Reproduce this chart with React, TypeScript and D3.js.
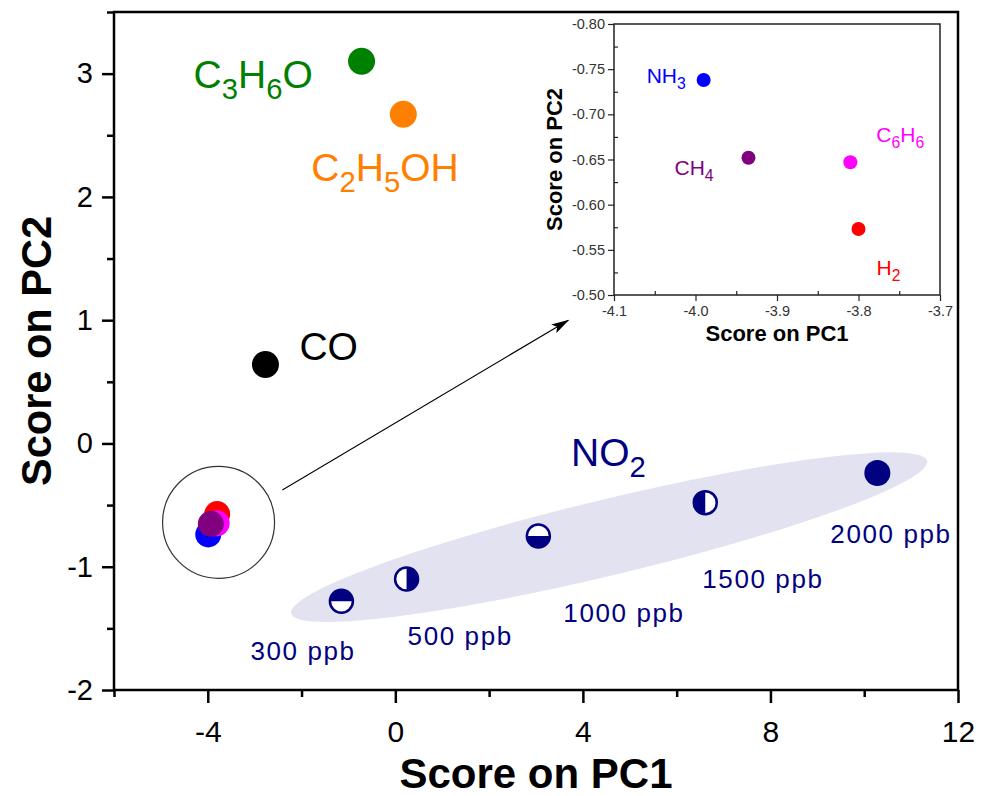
import React, { useRef, useEffect } from "react";
import * as d3 from "d3";

const W = 987;
const H = 796;

// main gases
const gasNames = ["C3H6O", "C2H5OH", "CO"];
const gasPC1 = [-0.72, 0.17, -2.77];
const gasPC2 = [3.1, 2.67, 0.64];
const gasColors = ["#008000", "#ff8000", "#000000"];

// cluster in the circle (also the inset)
const traceNames = ["H2", "NH3", "C6H6", "CH4"];
const tracePC1 = [-3.8, -3.99, -3.81, -3.935];
const tracePC2 = [-0.573, -0.738, -0.647, -0.652];
const traceColors = ["#ff0000", "#0000ff", "#ff00ff", "#800080"];

// NO2 concentrations
const no2Labels = ["300 ppb", "500 ppb", "1000 ppb", "1500 ppb", "2000 ppb"];
const no2PC1 = [-1.15, 0.24, 3.05, 6.61, 10.28];
const no2PC2 = [-1.28, -1.1, -0.75, -0.48, -0.24];
const no2Fill = ["top", "right", "bottom", "left", "full"];

const xTicks = [-4, 0, 4, 8, 12];
const xMinor = [-6, -2, 2, 6, 10];
const yTicks = [-2, -1, 0, 1, 2, 3];
const yMinor = [-1.5, -0.5, 0.5, 1.5, 2.5, 3.5];
const insetXTicks = [-4.1, -4.0, -3.9, -3.8, -3.7];
const insetXMinor = [-4.05, -3.95, -3.85, -3.75];
const insetYTicks = [-0.8, -0.75, -0.7, -0.65, -0.6, -0.55, -0.5];
const insetYMinor = [-0.775, -0.725, -0.675, -0.625, -0.575, -0.525];

// label offsets (px) from their markers
const gasLabelOff = [[-168, 27], [-92, 67], [34, -5]];
const no2LabelOff = [[-91, 59], [1, 66], [25, 86], [-3, 85], [-47, 70]];
const traceLabelOff = [[18, 46], [-57, 3], [26, -20], [-74, 17]];

const FONT = "'Liberation Sans', Arial, Helvetica, sans-serif";

// text with digit runs as subscripts
function formula(g: any, txt: string, size: number) {
  const parts = txt.match(/[A-Za-z]+|\d+/g) || [];
  const shift = size * 0.28;
  let down = false;
  parts.forEach((p) => {
    const isNum = /\d/.test(p);
    const t = g.append("tspan").text(p);
    if (isNum) {
      t.attr("font-size", size * 0.75);
      if (!down) t.attr("dy", shift);
      down = true;
    } else {
      t.attr("font-size", size);
      if (down) t.attr("dy", -shift);
      down = false;
    }
  });
}

export default function App() {
  const ref = useRef<SVGSVGElement>(null);

  useEffect(() => {
    if (!ref.current) return;
    const svg = d3.select(ref.current);
    svg.selectAll("*").remove();
    svg.attr("font-family", FONT);

    const x = d3.scaleLinear().domain([-6, 12]).range([114, 958]);
    const y = d3.scaleLinear().domain([-2, 3.5]).range([690, 12]);

    const defs = svg.append("defs");
    defs.append("marker")
      .attr("id", "arrowhead")
      .attr("markerUnits", "userSpaceOnUse")
      .attr("markerWidth", 18)
      .attr("markerHeight", 10)
      .attr("refX", 17)
      .attr("refY", 5)
      .attr("orient", "auto")
      .append("path")
      .attr("d", "M0,0 L18,5 L0,10 L4,5 z")
      .attr("fill", "#000");

    // NO2 ellipse
    const ex = x(4.56), ey = y(-0.76);
    svg.append("ellipse")
      .attr("cx", ex).attr("cy", ey)
      .attr("rx", 327).attr("ry", 38)
      .attr("transform", `rotate(-13.5,${ex},${ey})`)
      .attr("fill", "#e2e2f1");

    // main axes
    const gx = svg.append("g").attr("transform", `translate(0,${y(-2)})`);
    gx.call(d3.axisBottom(x).tickValues(xTicks).tickSize(13).tickSizeOuter(0).tickPadding(18).tickFormat((d: any) => String(d)));
    const gx2 = svg.append("g").attr("transform", `translate(0,${y(-2)})`);
    gx2.call(d3.axisBottom(x).tickValues(xMinor).tickSize(7).tickSizeOuter(0).tickFormat(() => ""));
    const gy = svg.append("g").attr("transform", `translate(${x(-6)},0)`);
    gy.call(d3.axisLeft(y).tickValues(yTicks).tickSize(12).tickSizeOuter(0).tickPadding(9).tickFormat((d: any) => String(d)));
    const gy2 = svg.append("g").attr("transform", `translate(${x(-6)},0)`);
    gy2.call(d3.axisLeft(y).tickValues(yMinor).tickSize(7).tickSizeOuter(0).tickFormat(() => ""));
    [gx, gx2, gy, gy2].forEach((g) => {
      g.select(".domain").remove();
      g.selectAll("line").attr("stroke", "#000").attr("stroke-width", 2.5);
      g.selectAll("text").attr("fill", "#000").attr("font-family", FONT);
    });
    gx.selectAll("text").attr("font-size", 30);
    gy.selectAll("text").attr("font-size", 29);

    svg.append("rect")
      .attr("x", x(-6)).attr("y", y(3.5))
      .attr("width", x(12) - x(-6)).attr("height", y(-2) - y(3.5))
      .attr("fill", "none").attr("stroke", "#000").attr("stroke-width", 2.5);

    svg.append("text")
      .attr("x", (x(-6) + x(12)) / 2).attr("y", 788)
      .attr("text-anchor", "middle").attr("font-weight", "bold").attr("font-size", 42)
      .text("Score on PC1");
    svg.append("text")
      .attr("transform", `translate(51,${(y(-2) + y(3.5)) / 2}) rotate(-90)`)
      .attr("text-anchor", "middle").attr("font-weight", "bold").attr("font-size", 43)
      .attr("textLength", 270).attr("lengthAdjust", "spacingAndGlyphs")
      .text("Score on PC2");

    // gases
    gasNames.forEach((n, i) => {
      const px = x(gasPC1[i]), py = y(gasPC2[i]);
      svg.append("circle").attr("cx", px).attr("cy", py).attr("r", 13.5).attr("fill", gasColors[i]);
      const t = svg.append("text")
        .attr("x", px + gasLabelOff[i][0]).attr("y", py + gasLabelOff[i][1])
        .attr("fill", gasColors[i]);
      formula(t, n, 39);
    });

    // cluster circle and arrow
    svg.append("circle")
      .attr("cx", x(-3.77)).attr("cy", y(-0.64)).attr("r", 56)
      .attr("fill", "none").attr("stroke", "#333").attr("stroke-width", 1.2);
    svg.append("line")
      .attr("x1", x(-2.41)).attr("y1", y(-0.377))
      .attr("x2", x(3.69)).attr("y2", y(1.0))
      .attr("stroke", "#000").attr("stroke-width", 1.1)
      .attr("marker-end", "url(#arrowhead)");

    traceNames.forEach((n, i) => {
      svg.append("circle")
        .attr("cx", x(tracePC1[i])).attr("cy", y(tracePC2[i]))
        .attr("r", 13).attr("fill", traceColors[i]);
    });

    // NO2 markers
    const navy = "#000080";
    const r = 11.5;
    const half = `M${-r},0 A${r},${r} 0 0 1 ${r},0 Z`;
    const rot: Record<string, number> = { top: 0, right: 90, bottom: 180, left: 270 };
    no2Labels.forEach((lab, i) => {
      const px = x(no2PC1[i]), py = y(no2PC2[i]);
      const g = svg.append("g").attr("transform", `translate(${px},${py})`);
      if (no2Fill[i] === "full") {
        g.append("circle").attr("r", r + 1.5).attr("fill", navy);
      } else {
        g.append("circle").attr("r", r).attr("fill", "#fff");
        g.append("path").attr("d", half).attr("fill", navy).attr("transform", `rotate(${rot[no2Fill[i]]})`);
        g.append("circle").attr("r", r).attr("fill", "none").attr("stroke", navy).attr("stroke-width", 2.5);
      }
      svg.append("text")
        .attr("x", px + no2LabelOff[i][0]).attr("y", py + no2LabelOff[i][1])
        .attr("fill", navy).attr("font-size", 26).attr("letter-spacing", 1.6)
        .text(lab);
    });
    const no2t = svg.append("text").attr("x", 571).attr("y", 466).attr("fill", navy);
    formula(no2t, "NO2", 39);

    // inset
    const ix = d3.scaleLinear().domain([-4.1, -3.7]).range([614, 940]);
    const iy = d3.scaleLinear().domain([-0.8, -0.5]).range([24, 295]);
    const inset = svg.append("g");
    inset.append("rect")
      .attr("x", 614).attr("y", 24).attr("width", 326).attr("height", 271)
      .attr("fill", "#fff").attr("stroke", "#222").attr("stroke-width", 1.5);
    const ig = [
      inset.append("g").attr("transform", `translate(0,${iy(-0.5)})`)
        .call(d3.axisBottom(ix).tickValues(insetXTicks).tickSize(6).tickSizeOuter(0).tickPadding(5).tickFormat((d: any) => (+d).toFixed(1))),
      inset.append("g").attr("transform", `translate(0,${iy(-0.5)})`)
        .call(d3.axisBottom(ix).tickValues(insetXMinor).tickSize(-4).tickSizeOuter(0).tickFormat(() => "")),
      inset.append("g").attr("transform", `translate(${ix(-4.1)},0)`)
        .call(d3.axisLeft(iy).tickValues(insetYTicks).tickSize(6).tickSizeOuter(0).tickPadding(3).tickFormat((d: any) => (+d).toFixed(2))),
      inset.append("g").attr("transform", `translate(${ix(-4.1)},0)`)
        .call(d3.axisLeft(iy).tickValues(insetYMinor).tickSize(-4).tickSizeOuter(0).tickFormat(() => "")),
    ];
    ig.forEach((g) => {
      g.select(".domain").remove();
      g.selectAll("line").attr("stroke", "#222").attr("stroke-width", 1.2);
      g.selectAll("text").attr("fill", "#333").attr("font-size", 14.5).attr("font-family", FONT);
    });
    inset.append("text")
      .attr("x", 777).attr("y", 341)
      .attr("text-anchor", "middle").attr("font-weight", "bold").attr("font-size", 22)
      .text("Score on PC1");
    inset.append("text")
      .attr("transform", `translate(562,${(iy(-0.8) + iy(-0.5)) / 2}) rotate(-90)`)
      .attr("text-anchor", "middle").attr("font-weight", "bold").attr("font-size", 22)
      .text("Score on PC2");
    traceNames.forEach((n, i) => {
      const px = ix(tracePC1[i]), py = iy(tracePC2[i]);
      inset.append("circle").attr("cx", px).attr("cy", py).attr("r", 7).attr("fill", traceColors[i]);
      const t = inset.append("text")
        .attr("x", px + traceLabelOff[i][0]).attr("y", py + traceLabelOff[i][1])
        .attr("fill", traceColors[i]);
      formula(t, n, 21);
    });
  }, []);

  return (
    <svg
      ref={ref}
      width={W}
      height={H}
      style={{ position: "absolute", left: 0, top: 0, background: "#fff" }}
    />
  );
}
